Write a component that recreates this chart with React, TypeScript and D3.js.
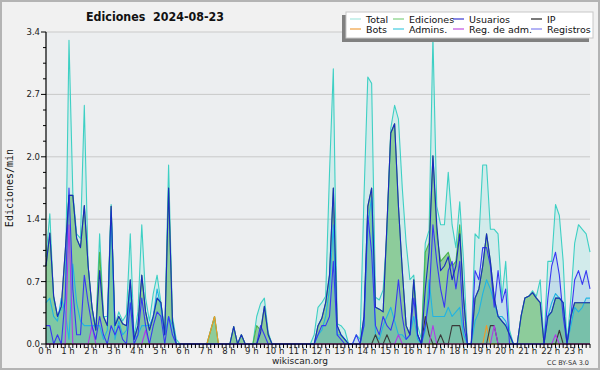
import React from "react";
import * as d3 from "d3";

// 10-minute samples, 00:00 .. 23:40 (one row per hour)
const totalVals = [
  0.95,1.42,0.48,0.30,0.37,0.45,
  3.31,1.65,1.20,1.15,2.60,0.85,
  0.40,0.15,1.20,0.30,0.30,1.52,
  0.20,0.35,0.25,0.32,1.20,0.07,
  0.35,1.30,0.50,0.25,0.55,0.75,
  0.45,0.15,1.95,0.30,0.05,0,
  0,0,0,0,0,0,
  0,0.15,0.30,0,0,0,
  0,0.19,0,0.10,0,0,
  0,0.30,0.44,0.50,0.13,0,
  0,0,0,0,0,0,
  0,0,0,0,0.10,0.40,
  0.45,0.52,1.86,3.00,0.22,0.20,
  0.15,0,0,0.10,0.05,1.60,
  2.91,2.84,0.51,0.48,0.59,1.20,
  2.35,2.60,2.45,1.70,1.10,0.70,
  0.75,0.20,0.05,1.10,1.24,3.35,
  1.50,1.30,1.30,1.87,1.30,1.05,
  1.55,0.90,0,0,1.20,1.15,
  1.95,1.95,1.25,1.25,1.20,0.50,
  0.90,0.15,0,0,0.30,0.50,
  0.52,0.58,0.52,0.70,0,0.90,
  0.90,1.52,1.40,0.90,0,0.50,
  1.10,1.30,1.25,1.20,1.00,
];
const edicionesVals = [
  0.85,1.21,0.52,0.30,0.41,1.00,
  1.62,1.62,1.15,1.05,1.51,0.85,
  0.40,0.15,1.00,0.30,0.20,1.50,
  0.20,0.30,0.22,0.20,0.70,0.05,
  0.20,0.75,0.35,0.15,0.30,0.50,
  0.45,0.10,1.70,0.25,0,0,
  0,0,0,0,0,0,
  0,0.15,0.30,0,0,0,
  0,0.19,0,0.10,0,0,
  0,0.20,0.15,0.41,0.10,0,
  0,0,0,0,0,0,
  0,0,0,0,0,0.20,
  0.28,0.45,0.75,1.70,0.20,0.10,
  0.05,0,0,0,0,0.30,
  1.50,1.70,0.40,0.38,0.35,1.30,
  2.30,2.40,1.50,0.80,0.20,0.10,
  0.70,0.10,0,1.00,1.10,2.05,
  1.20,0.90,0.95,1.00,0.85,0.90,
  1.30,0.50,0,0,0.50,0.60,
  0.85,1.20,0.90,0.50,0.30,0.25,
  0.20,0.10,0,0,0.30,0.50,
  0.52,0.56,0.50,0.45,0,0.30,
  0.35,0.50,0.50,0.45,0,0.30,
  0.45,0.45,0.45,0.45,0.45,
];
const usuariosVals = [
  0.85,1.21,0.52,0.30,0.41,1.00,
  1.62,1.62,1.15,1.05,1.51,0.85,
  0.40,0.15,0.80,0.30,0.20,1.50,
  0.20,0.30,0.22,0.20,0.70,0.05,
  0.20,0.75,0.35,0.15,0.30,0.50,
  0.45,0.10,1.70,0.25,0,0,
  0,0,0,0,0,0,
  0,0,0,0,0,0,
  0,0.19,0,0.10,0,0,
  0,0,0.12,0.41,0.10,0,
  0,0,0,0,0,0,
  0,0,0,0,0,0.20,
  0.28,0.45,0.75,1.70,0.20,0.10,
  0.05,0,0,0,0,0.30,
  1.50,1.70,0.40,0.38,0.35,1.30,
  2.30,2.40,1.50,0.80,0.20,0.10,
  0.70,0.10,0,0.60,1.00,2.05,
  1.30,0.80,0.85,0.95,0.70,0.85,
  1.20,0.50,0,0,0.50,0.60,
  0.85,1.20,0.90,0.50,0.30,0.25,
  0.20,0.10,0,0,0.30,0.50,
  0.52,0.56,0.50,0.45,0,0.30,
  0.35,0.50,0.50,0.45,0,0.30,
  0.45,0.45,0.45,0.45,0.45,
];
const ipVals = [
  0,0,0,0,0,0, 0,0,0,0,0,0, 0,0,0,0,0,0, 0,0,0,0,0,0,
  0,0,0,0,0,0, 0,0,0,0,0,0, 0,0,0,0,0,0, 0,0,0,0,0,0,
  0,0,0,0,0,0, 0,0,0,0,0,0, 0,0,0,0,0,0, 0,0,0,0,0,0,
  0,0,0,0,0,0, 0,0,0,0,0,0,
  0,0,0.10,0,0,0.10,
  0,0,0,0,0,0,
  0,0,0,0.30,0.10,0,
  0,0.10,0,0,0.20,0.20,
  0.20,0,0,0,0,0,
  0,0,0.20,0.20,0,0,
  0,0,0,0,0,0,
  0,0,0,0,0,0,
  0,0,0.15,0,0,0,
  0,0,0,0,0,
];
const botsVals = [
  0,0,0,0,0,0, 0,0,0,0,0,0, 0,0,0,0,0,0, 0,0,0,0,0,0,
  0,0,0,0,0,0, 0,0,0,0,0,0, 0,0,0,0,0,0,
  0,0.15,0.30,0,0,0,
  0,0,0,0,0,0, 0,0,0,0,0,0, 0,0,0,0,0,0, 0,0,0,0,0,0,
  0,0,0,0,0,0, 0,0,0,0,0,0, 0,0,0,0,0,0, 0,0,0,0,0,0,
  0,0,0,0,0,0, 0,0,0,0,0,0, 0,0,0,0,0,0,
  0,0.20,0,0,0,0,
  0,0,0,0,0,0, 0,0,0,0,0,0, 0,0,0,0,0,0,
  0,0,0,0,0,
];
const adminsVals = [
  0.45,0.50,0.30,0.25,0.50,0.35,
  0.05,0.87,0.45,0.25,0.20,0.20,
  0.20,0.20,0.20,0.05,0.15,1.45,
  0.05,0.25,0.10,0.15,0.60,0.05,
  0.10,0.20,0.20,0.20,0.30,0.60,
  0.40,0.10,0.30,0.20,0,0,
  0,0,0,0,0,0, 0,0,0,0,0,0, 0,0,0,0,0,0, 0,0,0,0,0,0, 0,0,0,0,0,0,
  0,0,0,0,0,0.10,
  0.15,0.30,0.60,1.30,0.10,0.10,
  0.05,0,0,0,0,0.20,
  1.30,1.60,0.10,0.05,0.20,0.30,
  0.40,0.25,0.10,0.10,0.05,0.10,
  0.30,0.05,0,0.15,0.70,0.30,
  0.30,0.30,0.30,0.40,0.30,0.35,
  0.40,0.10,0,0,0.25,0.35,
  0.55,0.70,0.60,0.45,0.30,0.30,
  0.25,0.10,0,0,0,0,
  0,0,0,0,0,0.30,
  0.45,0.55,0.50,0.45,0,0.20,
  0.40,0.35,0.40,0.50,0.50,
];
const regAdmVals = [
  0,0,0,0,0,0,
  1.30,0,0,0,0,0,
  0.20,0,0,0,0,0,
  0,0,0,0,0,0,
  0,0,0.15,0,0,0,
  0,0,0,0,0,0, 0,0,0,0,0,0, 0,0,0,0,0,0, 0,0,0,0,0,0, 0,0,0,0,0,0,
  0,0,0,0,0,0, 0,0,0,0,0,0, 0,0,0,0,0,0, 0,0,0,0,0,0, 0,0,0,0,0,0,
  0,0,0.10,0,0,0,
  0,0,0,0,0,0.20,
  0,0,0,0,0,0, 0,0,0,0,0,0,
  0,0,0,0.20,0,0,
  0,0,0,0,0,0, 0,0,0,0,0,0,
  0,0.10,0,0,0,0,
  0,0,0,0,0,
];
const registrosVals = [
  0.20,0.20,0,0.10,0,0.50,
  1.70,0.60,0.10,0.10,0.75,0.45,
  0.20,0.05,0.30,0.10,0,0.20,
  0.10,0.20,0.05,0,0.45,0,
  0.10,0.50,0.20,0,0.20,0.35,
  0.30,0,0.30,0.10,0,0,
  0,0,0,0,0,0, 0,0,0,0,0,0, 0,0,0,0,0,0,
  0,0,0.20,0.10,0,0,
  0,0,0,0,0,0,
  0,0,0,0,0,0.10,
  0.20,0.20,0.30,0.90,0.10,0.05,
  0,0,0,0.10,0,0.20,
  1.40,1.00,0.20,0.10,0.30,0.20,
  0.15,0.30,0.70,0.30,0.05,0.10,
  0.50,0.10,0,0.20,0.50,1.30,
  0.90,0.60,0.40,0.80,0.90,0.60,
  0.90,0.20,0,0,0.80,0.70,
  1.05,1.05,0.85,0.40,0.80,0.45,
  0.60,0,0,0,0,0,
  0,0,0,0,0,0.50,
  0.85,1.00,0.75,0.30,0,0.30,
  0.70,0.80,0.65,0.80,0.60,
];

const seriesNames = ["Total", "Ediciones", "Usuarios", "IP", "Bots", "Admins.", "Reg. de adm.", "Registros"];
const hourLabels = d3.range(24).map((h) => `${h} h`);
const yTickLabels = ["0.0", "0.7", "1.4", "2.0", "2.7", "3.4"];

const W = 600, H = 370;
const L = 46, R = 590, T = 32, B = 344;
const FONT = "'DejaVu Sans', sans-serif";

export default function App() {
  const n = totalVals.length;
  const x = d3.scaleLinear().domain([0, n - 1]).range([L, R]);
  const y = d3.scaleLinear().domain([0, 3.4]).range([B, T]);
  const line = d3.line<number>().x((_, i) => x(i)).y((v) => y(v));
  const area = d3.area<number>().x((_, i) => x(i)).y0(B).y1((v) => y(v));

  const series = [
    { name: "Total", vals: totalVals, stroke: "#3ed0c4", legend: "#a8e8e0", fill: "#40e0d0", fo: 0.15 },
    { name: "Ediciones", vals: edicionesVals, stroke: "#4cb44c", legend: "#80d080", fill: "#47ad4c", fo: 0.5 },
    { name: "Usuarios", vals: usuariosVals, stroke: "#1a2ac0", legend: "#3a3ad0", fill: null, fo: 0 },
    { name: "IP", vals: ipVals, stroke: "#3a3a3a", legend: "#222222", fill: null, fo: 0 },
    { name: "Bots", vals: botsVals, stroke: "#f09a28", legend: "#f0a040", fill: null, fo: 0 },
    { name: "Admins.", vals: adminsVals, stroke: "#22b4e2", legend: "#44cce0", fill: "#20b8e0", fo: 0.12 },
    { name: "Reg. de adm.", vals: regAdmVals, stroke: "#b03ce6", legend: "#c050e0", fill: null, fo: 0 },
    { name: "Registros", vals: registrosVals, stroke: "#3838f2", legend: "#8080f0", fill: "#3870f0", fo: 0.1 },
  ];
  const byName = (nm: string) => series.find((s) => s.name === nm)!;
  const lineOrder = ["Total", "Ediciones", "Bots", "Admins.", "IP", "Reg. de adm.", "Registros", "Usuarios"];
  const areaOrder = ["Total", "Ediciones", "Registros", "Admins."];

  const gridVals = d3.range(1, 6).map((k) => (3.4 * k) / 5);
  const minorY = d3.range(0, 21).map((k) => (3.4 * k) / 20);

  const legendCols = [350, 393, 453, 531];
  const legendRows = [19, 29];

  return (
    <div style={{ position: "fixed", left: 0, top: 0 }}>
      <svg width={W} height={H} style={{ display: "block" }} fontFamily={FONT}>
        <rect x={0} y={0} width={W} height={H} fill="#f1f1f1" />
        <rect x={1} y={1} width={W - 2} height={H - 2} fill="none" stroke="#b4b4b4" strokeWidth={2} />
        <rect x={L} y={T} width={R - L} height={B - T} fill="#eceef0" />
        {gridVals.map((g, k) => (
          <line key={k} x1={L} x2={R} y1={y(g)} y2={y(g)} stroke="#c9c9c9" strokeWidth={1} />
        ))}
        {areaOrder.map((nm) => {
          const s = byName(nm);
          return <path key={"a" + nm} d={area(s.vals) || ""} fill={s.fill!} fillOpacity={s.fo} stroke="none" />;
        })}
        {lineOrder.map((nm) => {
          const s = byName(nm);
          return (
            <path key={"l" + nm} d={line(s.vals) || ""} fill="none" stroke={s.stroke} strokeWidth={1.1} strokeLinejoin="round" />
          );
        })}
        {/* axes */}
        <line x1={L} x2={L} y1={T} y2={B} stroke="#000" strokeWidth={1.2} />
        <line x1={L} x2={R} y1={B} y2={B} stroke="#000" strokeWidth={1.2} />
        {minorY.map((v, k) => (
          <line key={"my" + k} x1={k % 4 === 0 ? L - 5 : L - 3} x2={L} y1={y(v)} y2={y(v)} stroke="#000" strokeWidth={1} />
        ))}
        {yTickLabels.map((t, k) => (
          <text key={"yl" + k} x={L - 6} y={y((3.4 * k) / 5) + 3} fontSize={8.5} textAnchor="end" fill="#222">
            {t}
          </text>
        ))}
        {d3.range(n).map((i) => (
          <line key={"xt" + i} x1={x(i)} x2={x(i)} y1={B} y2={B + 4} stroke="#000" strokeWidth={1} />
        ))}
        {hourLabels.map((h, k) => (
          <text key={"xl" + k} x={x(k * 6) - 1} y={354} fontSize={8.5} textAnchor="middle" fill="#222">
            {h}
          </text>
        ))}
        <text
          transform={`translate(13,188) rotate(-90)`}
          fontSize={10}
          textAnchor="middle"
          fontFamily="'DejaVu Sans Mono', monospace"
          fill="#111"
        >
          Ediciones/min
        </text>
        <text x={86} y={21} fontSize={12.5} fontWeight="bold" fill="#111" textLength={138} lengthAdjust="spacingAndGlyphs" style={{ whiteSpace: "pre" }}>
          {"Ediciones  2024-08-23"}
        </text>
        <text x={300} y={364} fontSize={9} textAnchor="middle" fill="#222">
          wikiscan.org
        </text>
        <text x={589} y={365} fontSize={6.5} textAnchor="end" fill="#333">
          CC BY-SA 3.0
        </text>
        {/* legend */}
        <rect x={342} y={15} width={247} height={27} fill="#808080" />
        <rect x={346} y={12} width={247} height={26} fill="#ffffff" stroke="#c8c8c8" strokeWidth={1} />
        {seriesNames.map((nm, k) => {
          const s = byName(nm);
          const col = k % 4;
          const row = Math.floor(k / 4);
          const sx = legendCols[col];
          const sy = legendRows[row];
          return (
            <g key={"lg" + k}>
              <line x1={sx} x2={sx + 11} y1={sy} y2={sy} stroke={s.legend} strokeWidth={1.2} />
              <text x={sx + 16} y={sy + 3.5} fontSize={9.5} fill="#111">
                {nm}
              </text>
            </g>
          );
        })}
      </svg>
    </div>
  );
}
